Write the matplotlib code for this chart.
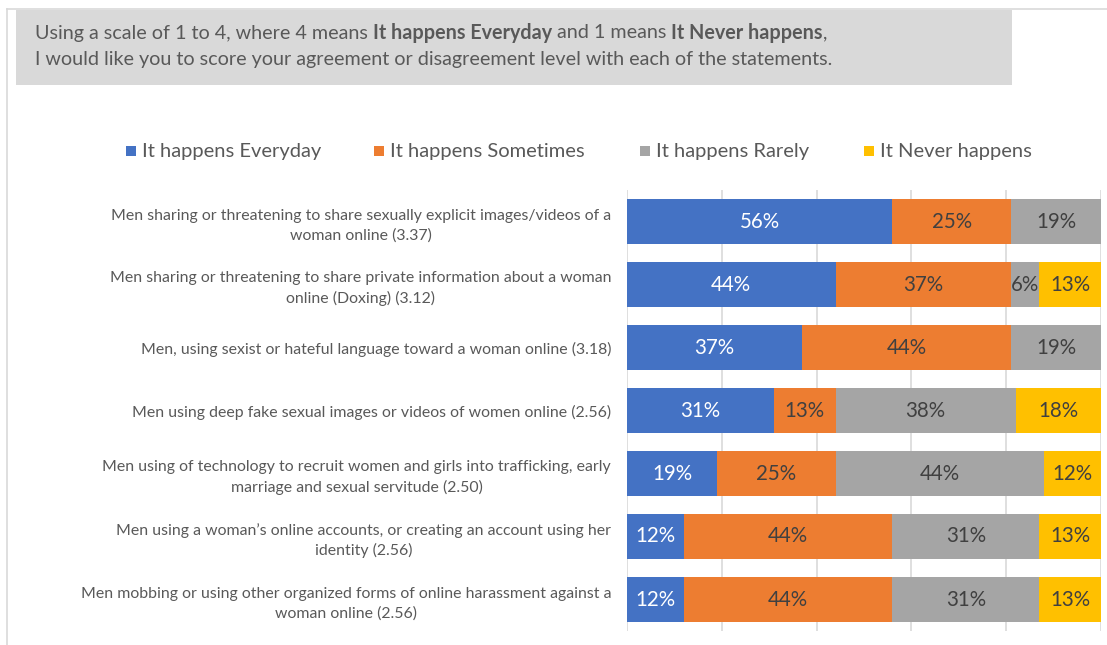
import numpy as np
import matplotlib.pyplot as plt
from matplotlib.patches import Rectangle
from matplotlib.lines import Line2D

plt.rcParams['font.family'] = ['Lato', 'DejaVu Sans']

statements = [
    'Men sharing or threatening to share sexually explicit images/videos of a\nwoman online (3.37)',
    'Men sharing or threatening to share private information about a woman\nonline (Doxing) (3.12)',
    'Men, using sexist or hateful language toward a woman online (3.18)',
    'Men using deep fake sexual images or videos of women online (2.56)',
    'Men using of technology to recruit women and girls into trafficking, early\nmarriage and sexual servitude (2.50)',
    'Men using a woman\u2019s online accounts, or creating an account using her\nidentity (2.56)',
    'Men mobbing or using other organized forms of online harassment against a\nwoman online (2.56)',
]
everyday = [56, 44, 37, 31, 19, 12, 12]
sometimes = [25, 37, 44, 13, 25, 44, 44]
rarely = [19, 6, 19, 38, 44, 31, 31]
never = [0, 13, 0, 18, 12, 13, 13]

series_names = ['It happens Everyday', 'It happens Sometimes', 'It happens Rarely', 'It Never happens']
colors = ['#4472C4', '#ED7D31', '#A5A5A5', '#FFC000']
text_colors = ['white', '#404040', '#404040', '#404040']

W, H = 1107, 645
fig = plt.figure(figsize=(W / 100, H / 100), dpi=100)

# outer chart border (top and left)
fig.add_artist(Line2D([7 / W, 7 / W], [0, 1 - 9 / H], color='#d9d9d9', lw=1.2))
fig.add_artist(Line2D([7 / W, 1], [1 - 9 / H, 1 - 9 / H], color='#d9d9d9', lw=1.2))

# header box
fig.add_artist(Rectangle((16 / W, 1 - 85 / H), (1012 - 16) / W, 75 / H,
                         facecolor='#d9d9d9', edgecolor='none'))

# header text with bold parts
line1 = [('Using a scale of 1 to 4, where 4 means ', 'normal'),
         ('It happens Everyday', 'bold'),
         (' and 1 means ', 'normal'),
         ('It Never happens', 'bold'),
         (',', 'normal')]
line2 = [('I would like you to score your agreement or disagreement level with each of the statements.', 'normal')]

renderer = fig.canvas.get_renderer()
for parts, ypix in [(line1, 33), (line2, 59)]:
    x = 35 / W
    for txt, wt in parts:
        t = fig.text(x, 1 - ypix / H, txt, fontsize=14.2, fontweight=wt,
                     color='#595959', va='center', ha='left')
        bb = t.get_window_extent(renderer=renderer)
        x += bb.width / W

# legend
leg_x = [126, 374, 640, 864]
for lx, name, c in zip(leg_x, series_names, colors):
    fig.add_artist(Rectangle((lx / W, 1 - 156 / H), 10 / W, 10 / H,
                             facecolor=c, edgecolor='none'))
    fig.text((lx + 16) / W, 1 - 151 / H, name, fontsize=14.5, color='#595959',
             va='center', ha='left')

# bars
ax = fig.add_axes([627 / W, 1 - 631 / H, (1101 - 627) / W, (631 - 190) / H])
y = np.arange(len(statements))
left = np.zeros(len(statements))
for vals, c, tc in zip([everyday, sometimes, rarely, never], colors, text_colors):
    frac = np.array(vals, dtype=float) / 100
    ax.barh(y, frac, left=left, height=0.71, color=c, zorder=3)
    for yi, v, l in zip(y, frac, left):
        if v > 0:
            ax.text(l + v / 2, yi, f'{round(v * 100)}%', ha='center', va='center',
                    fontsize=14.8, color=tc, zorder=4)
    left = left + frac

ax.set_xlim(0, 1)
ax.set_ylim(6.5, -0.5)
ax.set_xticks(np.arange(0, 1.01, 0.2))
ax.xaxis.grid(True, color='#d9d9d9', lw=1.2, zorder=0)
ax.tick_params(axis='x', length=0, labelbottom=False)
ax.set_yticks(y)
ax.set_yticklabels(statements, fontsize=11.4, color='#595959',
                   multialignment='center', linespacing=1.45)
ax.tick_params(axis='y', length=0, pad=11.5)
for s in ax.spines.values():
    s.set_visible(False)

fig.savefig('out.png', dpi=100)
